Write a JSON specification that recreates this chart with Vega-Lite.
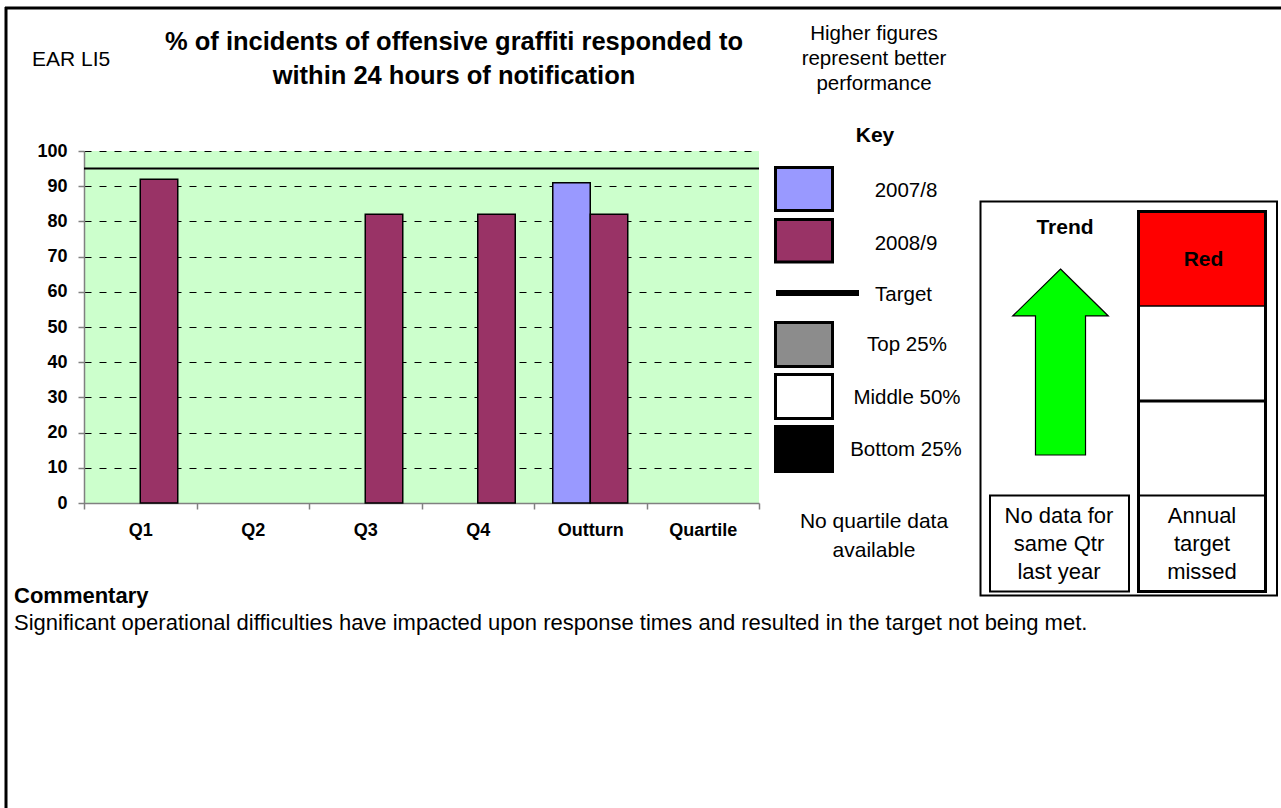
{
  "$schema": "https://vega.github.io/schema/vega-lite/v6.json",
  "width": 675,
  "height": 352,
  "autosize": {"type": "none"},
  "padding": {"left": 84, "top": 151, "right": 522, "bottom": 305},
  "background": "white",
  "config": {
    "font": "Liberation Sans",
    "view": {"fill": "#CCFFCC", "stroke": null}
  },
  "resolve": {"scale": {"x": "independent", "y": "independent"}},
  "layer": [
    {
      "layer": [
        {
          "data": {"values": [
            {"period": "Q1", "year": "2008/9", "value": 92},
            {"period": "Q3", "year": "2008/9", "value": 82},
            {"period": "Q4", "year": "2008/9", "value": 82},
            {"period": "Outturn", "year": "2007/8", "value": 91},
            {"period": "Outturn", "year": "2008/9", "value": 82}
          ]},
          "mark": {"type": "bar", "stroke": "black", "strokeWidth": 1.5},
          "encoding": {
            "x": {"field": "period", "type": "nominal",
              "scale": {"domain": ["Q1", "Q2", "Q3", "Q4", "Outturn", "Quartile"], "paddingInner": 0, "paddingOuter": 0},
              "axis": {"title": null, "labelAngle": 0, "tickBand": "extent", "domainColor": "#808080", "domainWidth": 1.5, "tickColor": "#808080", "tickWidth": 1.5, "tickSize": 6, "labelFontWeight": "bold", "labelFontSize": 18, "labelColor": "black", "labelPadding": 12, "grid": false}},
            "xOffset": {"field": "year", "type": "nominal", "scale": {"domain": ["2007/8", "2008/9"], "paddingInner": 0, "paddingOuter": 0.5}},
            "y": {"field": "value", "type": "quantitative", "title": null,
              "scale": {"domain": [0, 100], "nice": false},
              "axis": {"title": null, "values": [0, 10, 20, 30, 40, 50, 60, 70, 80, 90, 100], "labelOverlap": false, "grid": true, "gridColor": "black", "gridDash": [7, 8], "gridWidth": 1, "domainColor": "#808080", "domainWidth": 1.5, "tickColor": "#808080", "tickWidth": 1.5, "tickSize": 6, "labelFontWeight": "bold", "labelFontSize": 18, "labelColor": "black", "labelPadding": 11}},
            "color": {"field": "year", "type": "nominal", "scale": {"domain": ["2007/8", "2008/9"], "range": ["#9999FF", "#993366"]}, "legend": null}
          }
        },
        {
          "data": {"values": [{"target": 95}]},
          "mark": {"type": "rule", "color": "black", "strokeWidth": 2},
          "encoding": {"y": {"field": "target", "type": "quantitative", "title": null,
            "scale": {"domain": [0, 100], "nice": false},
            "axis": {"title": null, "values": [0, 10, 20, 30, 40, 50, 60, 70, 80, 90, 100], "labelOverlap": false, "grid": true, "gridColor": "black", "gridDash": [7, 8], "gridWidth": 1, "domainColor": "#808080", "domainWidth": 1.5, "tickColor": "#808080", "tickWidth": 1.5, "tickSize": 6, "labelFontWeight": "bold", "labelFontSize": 18, "labelColor": "black", "labelPadding": 11}}}
        }
      ]
    },
    {
      "data": {"values": [{}]},
      "layer": [
        {"mark": {"type": "rule", "color": "black", "strokeWidth": 3},
         "encoding": {"x": {"datum": 5, "type": "quantitative", "scale": {"domain": [0, 1281], "range": [-84, 1197], "nice": false, "zero": false}, "axis": null}, "x2": {"datum": 1281},
                      "y": {"datum": 8, "type": "quantitative", "scale": {"domain": [0, 808], "range": [-151, 657], "nice": false, "zero": false}, "axis": null}}},
        {"mark": {"type": "rule", "color": "black", "strokeWidth": 3},
         "encoding": {"x": {"datum": 6, "type": "quantitative", "scale": {"domain": [0, 1281], "range": [-84, 1197], "nice": false, "zero": false}, "axis": null},
                      "y": {"datum": 7, "type": "quantitative", "scale": {"domain": [0, 808], "range": [-151, 657], "nice": false, "zero": false}, "axis": null}, "y2": {"datum": 808}}},
        {"mark": {"type": "text", "text": "EAR LI5", "align": "left", "baseline": "alphabetic", "fontSize": 21, "color": "black"},
         "encoding": {"x": {"datum": 32, "type": "quantitative", "scale": {"domain": [0, 1281], "range": [-84, 1197], "nice": false, "zero": false}, "axis": null},
                      "y": {"datum": 66, "type": "quantitative", "scale": {"domain": [0, 808], "range": [-151, 657], "nice": false, "zero": false}, "axis": null}}},
        {"mark": {"type": "text", "text": ["% of incidents of offensive graffiti responded to", "within 24 hours of notification"], "align": "center", "baseline": "alphabetic", "fontSize": 25.5, "fontWeight": "bold", "lineHeight": 34, "color": "black"},
         "encoding": {"x": {"datum": 454, "type": "quantitative", "scale": {"domain": [0, 1281], "range": [-84, 1197], "nice": false, "zero": false}, "axis": null},
                      "y": {"datum": 50, "type": "quantitative", "scale": {"domain": [0, 808], "range": [-151, 657], "nice": false, "zero": false}, "axis": null}}},
        {"mark": {"type": "text", "text": ["Higher figures", "represent better", "performance"], "align": "center", "baseline": "alphabetic", "fontSize": 20.5, "lineHeight": 25, "color": "black"},
         "encoding": {"x": {"datum": 874, "type": "quantitative", "scale": {"domain": [0, 1281], "range": [-84, 1197], "nice": false, "zero": false}, "axis": null},
                      "y": {"datum": 40, "type": "quantitative", "scale": {"domain": [0, 808], "range": [-151, 657], "nice": false, "zero": false}, "axis": null}}},
        {"mark": {"type": "text", "text": "Key", "align": "center", "baseline": "alphabetic", "fontSize": 21, "fontWeight": "bold", "color": "black"},
         "encoding": {"x": {"datum": 875, "type": "quantitative", "scale": {"domain": [0, 1281], "range": [-84, 1197], "nice": false, "zero": false}, "axis": null},
                      "y": {"datum": 142, "type": "quantitative", "scale": {"domain": [0, 808], "range": [-151, 657], "nice": false, "zero": false}, "axis": null}}},
        {"mark": {"type": "rect", "fill": "#9999FF", "stroke": "black", "strokeWidth": 3},
         "encoding": {"x": {"datum": 775.5, "type": "quantitative", "scale": {"domain": [0, 1281], "range": [-84, 1197], "nice": false, "zero": false}, "axis": null}, "x2": {"datum": 832.5},
                      "y": {"datum": 167.5, "type": "quantitative", "scale": {"domain": [0, 808], "range": [-151, 657], "nice": false, "zero": false}, "axis": null}, "y2": {"datum": 210.5}}},
        {"mark": {"type": "rect", "fill": "#993366", "stroke": "black", "strokeWidth": 3},
         "encoding": {"x": {"datum": 775.5, "type": "quantitative", "scale": {"domain": [0, 1281], "range": [-84, 1197], "nice": false, "zero": false}, "axis": null}, "x2": {"datum": 832.5},
                      "y": {"datum": 219.5, "type": "quantitative", "scale": {"domain": [0, 808], "range": [-151, 657], "nice": false, "zero": false}, "axis": null}, "y2": {"datum": 262}}},
        {"mark": {"type": "rule", "color": "black", "strokeWidth": 6},
         "encoding": {"x": {"datum": 776, "type": "quantitative", "scale": {"domain": [0, 1281], "range": [-84, 1197], "nice": false, "zero": false}, "axis": null}, "x2": {"datum": 859},
                      "y": {"datum": 293, "type": "quantitative", "scale": {"domain": [0, 808], "range": [-151, 657], "nice": false, "zero": false}, "axis": null}}},
        {"mark": {"type": "rect", "fill": "#8c8c8c", "stroke": "black", "strokeWidth": 3},
         "encoding": {"x": {"datum": 775.5, "type": "quantitative", "scale": {"domain": [0, 1281], "range": [-84, 1197], "nice": false, "zero": false}, "axis": null}, "x2": {"datum": 832.5},
                      "y": {"datum": 322.5, "type": "quantitative", "scale": {"domain": [0, 808], "range": [-151, 657], "nice": false, "zero": false}, "axis": null}, "y2": {"datum": 366.5}}},
        {"mark": {"type": "rect", "fill": "white", "stroke": "black", "strokeWidth": 3},
         "encoding": {"x": {"datum": 775.5, "type": "quantitative", "scale": {"domain": [0, 1281], "range": [-84, 1197], "nice": false, "zero": false}, "axis": null}, "x2": {"datum": 832.5},
                      "y": {"datum": 374.5, "type": "quantitative", "scale": {"domain": [0, 808], "range": [-151, 657], "nice": false, "zero": false}, "axis": null}, "y2": {"datum": 418.5}}},
        {"mark": {"type": "rect", "fill": "black", "stroke": "black", "strokeWidth": 3},
         "encoding": {"x": {"datum": 775.5, "type": "quantitative", "scale": {"domain": [0, 1281], "range": [-84, 1197], "nice": false, "zero": false}, "axis": null}, "x2": {"datum": 832.5},
                      "y": {"datum": 426.5, "type": "quantitative", "scale": {"domain": [0, 808], "range": [-151, 657], "nice": false, "zero": false}, "axis": null}, "y2": {"datum": 471.5}}},
        {"mark": {"type": "text", "text": "2007/8", "align": "center", "baseline": "alphabetic", "fontSize": 20.5, "color": "black"},
         "encoding": {"x": {"datum": 906, "type": "quantitative", "scale": {"domain": [0, 1281], "range": [-84, 1197], "nice": false, "zero": false}, "axis": null},
                      "y": {"datum": 196.5, "type": "quantitative", "scale": {"domain": [0, 808], "range": [-151, 657], "nice": false, "zero": false}, "axis": null}}},
        {"mark": {"type": "text", "text": "2008/9", "align": "center", "baseline": "alphabetic", "fontSize": 20.5, "color": "black"},
         "encoding": {"x": {"datum": 906, "type": "quantitative", "scale": {"domain": [0, 1281], "range": [-84, 1197], "nice": false, "zero": false}, "axis": null},
                      "y": {"datum": 249.5, "type": "quantitative", "scale": {"domain": [0, 808], "range": [-151, 657], "nice": false, "zero": false}, "axis": null}}},
        {"mark": {"type": "text", "text": "Target", "align": "left", "baseline": "alphabetic", "fontSize": 20.5, "color": "black"},
         "encoding": {"x": {"datum": 875, "type": "quantitative", "scale": {"domain": [0, 1281], "range": [-84, 1197], "nice": false, "zero": false}, "axis": null},
                      "y": {"datum": 300.5, "type": "quantitative", "scale": {"domain": [0, 808], "range": [-151, 657], "nice": false, "zero": false}, "axis": null}}},
        {"mark": {"type": "text", "text": "Top 25%", "align": "center", "baseline": "alphabetic", "fontSize": 20.5, "color": "black"},
         "encoding": {"x": {"datum": 907, "type": "quantitative", "scale": {"domain": [0, 1281], "range": [-84, 1197], "nice": false, "zero": false}, "axis": null},
                      "y": {"datum": 350.5, "type": "quantitative", "scale": {"domain": [0, 808], "range": [-151, 657], "nice": false, "zero": false}, "axis": null}}},
        {"mark": {"type": "text", "text": "Middle 50%", "align": "center", "baseline": "alphabetic", "fontSize": 20.5, "color": "black"},
         "encoding": {"x": {"datum": 907, "type": "quantitative", "scale": {"domain": [0, 1281], "range": [-84, 1197], "nice": false, "zero": false}, "axis": null},
                      "y": {"datum": 404, "type": "quantitative", "scale": {"domain": [0, 808], "range": [-151, 657], "nice": false, "zero": false}, "axis": null}}},
        {"mark": {"type": "text", "text": "Bottom 25%", "align": "center", "baseline": "alphabetic", "fontSize": 20.5, "color": "black"},
         "encoding": {"x": {"datum": 906, "type": "quantitative", "scale": {"domain": [0, 1281], "range": [-84, 1197], "nice": false, "zero": false}, "axis": null},
                      "y": {"datum": 455.5, "type": "quantitative", "scale": {"domain": [0, 808], "range": [-151, 657], "nice": false, "zero": false}, "axis": null}}},
        {"mark": {"type": "text", "text": ["No quartile data", "available"], "align": "center", "baseline": "alphabetic", "fontSize": 21, "lineHeight": 29, "color": "black"},
         "encoding": {"x": {"datum": 874, "type": "quantitative", "scale": {"domain": [0, 1281], "range": [-84, 1197], "nice": false, "zero": false}, "axis": null},
                      "y": {"datum": 528, "type": "quantitative", "scale": {"domain": [0, 808], "range": [-151, 657], "nice": false, "zero": false}, "axis": null}}},
        {"mark": {"type": "rect", "fill": "white", "stroke": "black", "strokeWidth": 2},
         "encoding": {"x": {"datum": 980.5, "type": "quantitative", "scale": {"domain": [0, 1281], "range": [-84, 1197], "nice": false, "zero": false}, "axis": null}, "x2": {"datum": 1277},
                      "y": {"datum": 201.5, "type": "quantitative", "scale": {"domain": [0, 808], "range": [-151, 657], "nice": false, "zero": false}, "axis": null}, "y2": {"datum": 595.5}}},
        {"mark": {"type": "text", "text": "Trend", "align": "center", "baseline": "alphabetic", "fontSize": 21, "fontWeight": "bold", "color": "black"},
         "encoding": {"x": {"datum": 1065, "type": "quantitative", "scale": {"domain": [0, 1281], "range": [-84, 1197], "nice": false, "zero": false}, "axis": null},
                      "y": {"datum": 234, "type": "quantitative", "scale": {"domain": [0, 808], "range": [-151, 657], "nice": false, "zero": false}, "axis": null}}},
        {"mark": {"type": "point", "shape": "M0,-1L0.514,-0.495L0.269,-0.495L0.269,1L-0.269,1L-0.269,-0.495L-0.514,-0.495Z", "size": 34596, "filled": true, "fill": "#00FF00", "stroke": "black", "strokeWidth": 1.2, "opacity": 1},
         "encoding": {"x": {"datum": 1060.5, "type": "quantitative", "scale": {"domain": [0, 1281], "range": [-84, 1197], "nice": false, "zero": false}, "axis": null},
                      "y": {"datum": 362, "type": "quantitative", "scale": {"domain": [0, 808], "range": [-151, 657], "nice": false, "zero": false}, "axis": null}}},
        {"mark": {"type": "rect", "fill": "#FF0000"},
         "encoding": {"x": {"datum": 1138, "type": "quantitative", "scale": {"domain": [0, 1281], "range": [-84, 1197], "nice": false, "zero": false}, "axis": null}, "x2": {"datum": 1266},
                      "y": {"datum": 211, "type": "quantitative", "scale": {"domain": [0, 808], "range": [-151, 657], "nice": false, "zero": false}, "axis": null}, "y2": {"datum": 306}}},
        {"mark": {"type": "rule", "color": "black", "strokeWidth": 1.5},
         "encoding": {"x": {"datum": 1138, "type": "quantitative", "scale": {"domain": [0, 1281], "range": [-84, 1197], "nice": false, "zero": false}, "axis": null}, "x2": {"datum": 1266},
                      "y": {"datum": 306, "type": "quantitative", "scale": {"domain": [0, 808], "range": [-151, 657], "nice": false, "zero": false}, "axis": null}}},
        {"mark": {"type": "rule", "color": "black", "strokeWidth": 3},
         "encoding": {"x": {"datum": 1138, "type": "quantitative", "scale": {"domain": [0, 1281], "range": [-84, 1197], "nice": false, "zero": false}, "axis": null}, "x2": {"datum": 1266},
                      "y": {"datum": 401, "type": "quantitative", "scale": {"domain": [0, 808], "range": [-151, 657], "nice": false, "zero": false}, "axis": null}}},
        {"mark": {"type": "rule", "color": "black", "strokeWidth": 2},
         "encoding": {"x": {"datum": 1138, "type": "quantitative", "scale": {"domain": [0, 1281], "range": [-84, 1197], "nice": false, "zero": false}, "axis": null}, "x2": {"datum": 1266},
                      "y": {"datum": 495.5, "type": "quantitative", "scale": {"domain": [0, 808], "range": [-151, 657], "nice": false, "zero": false}, "axis": null}}},
        {"mark": {"type": "rect", "fillOpacity": 0, "stroke": "black", "strokeWidth": 3},
         "encoding": {"x": {"datum": 1138.5, "type": "quantitative", "scale": {"domain": [0, 1281], "range": [-84, 1197], "nice": false, "zero": false}, "axis": null}, "x2": {"datum": 1265.5},
                      "y": {"datum": 211.5, "type": "quantitative", "scale": {"domain": [0, 808], "range": [-151, 657], "nice": false, "zero": false}, "axis": null}, "y2": {"datum": 591.5}}},
        {"mark": {"type": "text", "text": "Red", "align": "center", "baseline": "alphabetic", "fontSize": 21, "fontWeight": "bold", "color": "black"},
         "encoding": {"x": {"datum": 1203.5, "type": "quantitative", "scale": {"domain": [0, 1281], "range": [-84, 1197], "nice": false, "zero": false}, "axis": null},
                      "y": {"datum": 266, "type": "quantitative", "scale": {"domain": [0, 808], "range": [-151, 657], "nice": false, "zero": false}, "axis": null}}},
        {"mark": {"type": "rect", "fillOpacity": 0, "stroke": "black", "strokeWidth": 2},
         "encoding": {"x": {"datum": 990, "type": "quantitative", "scale": {"domain": [0, 1281], "range": [-84, 1197], "nice": false, "zero": false}, "axis": null}, "x2": {"datum": 1129},
                      "y": {"datum": 495.5, "type": "quantitative", "scale": {"domain": [0, 808], "range": [-151, 657], "nice": false, "zero": false}, "axis": null}, "y2": {"datum": 591.5}}},
        {"mark": {"type": "text", "text": ["No data for", "same Qtr", "last year"], "align": "center", "baseline": "alphabetic", "fontSize": 22, "lineHeight": 28, "color": "black"},
         "encoding": {"x": {"datum": 1059, "type": "quantitative", "scale": {"domain": [0, 1281], "range": [-84, 1197], "nice": false, "zero": false}, "axis": null},
                      "y": {"datum": 523, "type": "quantitative", "scale": {"domain": [0, 808], "range": [-151, 657], "nice": false, "zero": false}, "axis": null}}},
        {"mark": {"type": "text", "text": ["Annual", "target", "missed"], "align": "center", "baseline": "alphabetic", "fontSize": 22, "lineHeight": 28, "color": "black"},
         "encoding": {"x": {"datum": 1202, "type": "quantitative", "scale": {"domain": [0, 1281], "range": [-84, 1197], "nice": false, "zero": false}, "axis": null},
                      "y": {"datum": 523, "type": "quantitative", "scale": {"domain": [0, 808], "range": [-151, 657], "nice": false, "zero": false}, "axis": null}}},
        {"mark": {"type": "text", "text": "Commentary", "align": "left", "baseline": "alphabetic", "fontSize": 22, "fontWeight": "bold", "color": "black"},
         "encoding": {"x": {"datum": 14, "type": "quantitative", "scale": {"domain": [0, 1281], "range": [-84, 1197], "nice": false, "zero": false}, "axis": null},
                      "y": {"datum": 603, "type": "quantitative", "scale": {"domain": [0, 808], "range": [-151, 657], "nice": false, "zero": false}, "axis": null}}},
        {"mark": {"type": "text", "text": "Significant operational difficulties have impacted upon response times and resulted in the target not being met.", "align": "left", "baseline": "alphabetic", "fontSize": 22, "color": "black"},
         "encoding": {"x": {"datum": 14, "type": "quantitative", "scale": {"domain": [0, 1281], "range": [-84, 1197], "nice": false, "zero": false}, "axis": null},
                      "y": {"datum": 630, "type": "quantitative", "scale": {"domain": [0, 808], "range": [-151, 657], "nice": false, "zero": false}, "axis": null}}}
      ]
    }
  ]
}
